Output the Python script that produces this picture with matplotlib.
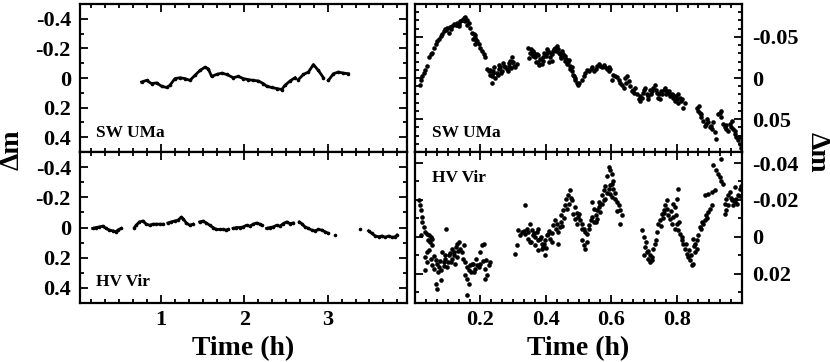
import matplotlib
matplotlib.use('Agg')
import numpy as np
import matplotlib.pyplot as plt
from matplotlib.ticker import MultipleLocator, FixedLocator, FuncFormatter

plt.rcParams['font.family'] = 'Liberation Serif'
plt.rcParams['font.weight'] = 'bold'

nan = np.nan

# SW UMa, full run (h, mag) -- NaN marks gaps in the light curve
sw_long_t = [0.768, 0.828, 0.888, 0.948, 1.008, 1.068, 1.108, 1.168, 1.228, 1.288, 1.348,
             1.408, 1.468, 1.528, 1.568, 1.608, 1.668, 1.728, 1.788, 1.868, 1.928, 1.988,
             2.048, 2.108, 2.168, 2.228, 2.268, 2.328, 2.388, 2.448, 2.488, 2.548, 2.608, nan,
             2.648, 2.708, 2.768, 2.828, 2.888, 2.948, nan,
             3.008, 3.068, 3.128, 3.188, 3.248]
sw_long_m = [0.027, 0.016, 0.038, 0.033, 0.056, 0.064, 0.049, 0.004, -0.002, 0.004, 0.016,
             -0.018, -0.051, -0.073, -0.062, -0.011, -0.024, -0.033, -0.024, -0.002, -0.011, 0.004,
             0.011, 0.016, 0.020, 0.038, 0.056, 0.064, 0.071, 0.078, 0.049, 0.020, -0.002, nan,
             0.011, -0.024, -0.040, -0.091, -0.051, -0.002, nan,
             0.016, -0.029, -0.040, -0.033, -0.029]

# HV Vir, full run
hv_long_t = [0.182, 0.222, 0.263, 0.303, 0.343, 0.383, 0.423, 0.463, 0.483, 0.523, nan,
             0.683, 0.703, 0.743, 0.784, 0.824, 0.864, 0.904, 0.944, 0.984, 1.024, nan,
             1.084, 1.124, 1.164, 1.204, 1.244, 1.265, 1.305, 1.345, 1.385, nan,
             1.465, 1.505, 1.545, 1.585, 1.625, 1.665, 1.705, 1.745, 1.786, 1.806, nan,
             1.866, 1.906, 1.946, 1.986, 2.026, 2.066, 2.106, 2.146, 2.186, 2.206, nan,
             2.267, 2.307, 2.347, 2.387, 2.427, 2.467, 2.507, 2.547, 2.587, nan,
             2.659, 2.687, 2.727, 2.768, 2.808, 2.848, 2.888, 2.928, 2.968, 3.008, nan,
             3.088, nan, 3.381, nan,
             3.489, 3.529, 3.569, 3.609, 3.649, 3.689, 3.729, 3.770, 3.810, 3.830]
hv_long_m = [0.006, 0.0, -0.004, -0.009, 0.006, 0.017, 0.022, 0.028, 0.017, 0.006, nan,
             0.0, -0.015, -0.037, -0.043, -0.022, -0.015, -0.022, -0.022, -0.022, -0.022, nan,
             -0.030, -0.037, -0.043, -0.048, -0.069, -0.058, -0.030, -0.015, -0.022, nan,
             -0.037, -0.043, -0.030, -0.015, 0.0, 0.013, 0.013, 0.013, 0.017, 0.013, nan,
             0.006, 0.0, 0.0, -0.004, -0.015, -0.009, -0.022, -0.030, -0.022, -0.015, nan,
             0.006, 0.0, -0.004, -0.015, -0.009, -0.026, -0.037, -0.026, -0.030, nan,
             -0.037, -0.026, -0.004, 0.006, 0.017, 0.022, 0.013, 0.017, 0.028, 0.039, nan,
             0.050, nan, 0.013, nan,
             0.022, 0.039, 0.056, 0.061, 0.056, 0.065, 0.056, 0.065, 0.061, 0.050]

# SW UMa, first hour
sw_short_t = [0.014, 0.017, 0.022, 0.027, 0.030, 0.038, 0.043, 0.048, 0.052, 0.058, 0.063, 0.068,
              0.073, 0.078, 0.083, 0.088, 0.093, 0.095, 0.098, 0.103, 0.106, 0.109, 0.114, 0.118,
              0.124, 0.127, 0.129, 0.134, 0.136, 0.139, 0.144, 0.147, 0.149, 0.152, 0.154, 0.159,
              0.160, 0.164, 0.169, 0.174, 0.177, 0.180, 0.182, 0.185, 0.185, 0.188, 0.190, 0.195,
              0.200, 0.205, 0.210, 0.215,
              0.220, 0.225, 0.228, 0.230, 0.235, 0.235, 0.238, 0.240, 0.243, 0.245, 0.250, 0.253,
              0.256, 0.258, 0.261, 0.263, 0.266, 0.268, 0.271, 0.276, 0.281, 0.283, 0.286, 0.288,
              0.291, 0.293, 0.296, 0.298, 0.301, 0.303, 0.306, 0.311,
              0.347, 0.350, 0.352, 0.355, 0.357, 0.360, 0.362, 0.365, 0.367, 0.370, 0.372, 0.375,
              0.377, 0.380, 0.382, 0.387, 0.390, 0.392, 0.395, 0.398, 0.400, 0.403, 0.405, 0.408,
              0.410, 0.413, 0.415, 0.418, 0.420, 0.423, 0.425, 0.428, 0.430, 0.433, 0.438, 0.440,
              0.443, 0.445, 0.448, 0.450, 0.453, 0.455, 0.458, 0.460, 0.463, 0.465, 0.469, 0.470,
              0.474, 0.475, 0.479, 0.480, 0.484, 0.485, 0.489, 0.490, 0.494, 0.499,
              0.501, 0.511, 0.516, 0.521, 0.526, 0.531, 0.537, 0.542, 0.547, 0.552, 0.557, 0.562,
              0.567, 0.572, 0.577, 0.582, 0.587, 0.592, 0.592, 0.597, 0.602, 0.607, 0.613, 0.618,
              0.623, 0.628, 0.633, 0.638, 0.643, 0.645, 0.648, 0.653, 0.658, 0.663, 0.668, 0.670,
              0.673, 0.678, 0.684, 0.688, 0.689, 0.694, 0.697, 0.699, 0.704, 0.709, 0.712, 0.714,
              0.719, 0.722, 0.724, 0.729, 0.734, 0.736, 0.739, 0.744, 0.745, 0.749, 0.752, 0.755,
              0.760, 0.765, 0.768, 0.770, 0.775, 0.778, 0.780, 0.785, 0.788, 0.790, 0.795, 0.797,
              0.800, 0.803, 0.805, 0.810, 0.812, 0.815, 0.820, 0.826,
              0.861, 0.866, 0.868, 0.871, 0.875, 0.876, 0.881, 0.886, 0.891, 0.893, 0.897, 0.902,
              0.905, 0.907, 0.912, 0.917, 0.922, 0.927, 0.932, 0.935, 0.937, 0.942, 0.947, 0.950,
              0.952, 0.957, 0.962, 0.965, 0.968, 0.973, 0.978, 0.980, 0.983, 0.988, 0.990, 0.993,
              0.998]
sw_short_m = [0.008, 0.002, -0.002, -0.006, -0.010, -0.015, -0.025, -0.029, -0.031, -0.037, -0.041, -0.045,
              -0.047, -0.051, -0.054, -0.057, -0.059, -0.058, -0.061, -0.055, -0.062, -0.059, -0.063, -0.066,
              -0.065, -0.064, -0.067, -0.063, -0.066, -0.069, -0.071, -0.070, -0.073, -0.074, -0.069, -0.071,
              -0.065, -0.067, -0.061, -0.055, -0.048, -0.053, -0.052, -0.049, -0.041, -0.046, -0.045, -0.041,
              -0.037, -0.033, -0.029, -0.025,
              -0.011, -0.008, -0.010, -0.004, -0.002, 0.006, -0.009, -0.006, -0.013, 0.000, -0.006, -0.004,
              -0.011, -0.016, -0.013, -0.006, -0.008, -0.018, -0.015, -0.013, -0.011, -0.008, -0.015, -0.018,
              -0.021, -0.012, -0.025, -0.020, -0.019, -0.015, -0.013, -0.017,
              -0.037, -0.024, -0.031, -0.035, -0.029, -0.027, -0.033, -0.031, -0.025, -0.020, -0.029, -0.028,
              -0.019, -0.016, -0.023, -0.017, -0.021, -0.025, -0.031, -0.029, -0.027, -0.035, -0.030, -0.033,
              -0.019, -0.025, -0.031, -0.021, -0.029, -0.033, -0.035, -0.037, -0.033, -0.039, -0.035, -0.031,
              -0.029, -0.024, -0.025, -0.033, -0.029, -0.025, -0.027, -0.021, -0.023, -0.017, -0.019, -0.022,
              -0.015, -0.011, -0.013, -0.009, -0.004, -0.002, 0.000, 0.003, 0.006, 0.008,
              0.006, 0.002, -0.002, -0.006, -0.010, -0.008, -0.011, -0.013, -0.009, -0.011, -0.015, -0.017,
              -0.015, -0.013, -0.016, -0.013, -0.011, -0.013, -0.009, -0.011, 0.002, -0.004, -0.002, -0.001,
              0.002, 0.006, 0.008, 0.012, 0.000, 0.006, -0.002, 0.004, 0.010, 0.016, 0.014, 0.018,
              0.012, 0.020, 0.026, 0.022, 0.028, 0.024, 0.018, 0.014, 0.012, 0.020, 0.022, 0.026,
              0.014, 0.020, 0.016, 0.012, 0.008, 0.014, 0.018, 0.024, 0.019, 0.026, 0.016, 0.020,
              0.014, 0.012, 0.020, 0.016, 0.018, 0.016, 0.022, 0.020, 0.021, 0.024, 0.028, 0.022,
              0.026, 0.030, 0.020, 0.024, 0.028, 0.026, 0.036, 0.030,
              0.036, 0.040, 0.034, 0.042, 0.044, 0.048, 0.052, 0.058, 0.056, 0.050, 0.054, 0.060,
              0.058, 0.062, 0.054, 0.066, 0.074, 0.044, 0.042, 0.048, 0.040, 0.056, 0.060, 0.057,
              0.062, 0.064, 0.056, 0.060, 0.052, 0.062, 0.068, 0.065, 0.072, 0.076, 0.072, 0.080,
              0.085]

# HV Vir, first hour
hv_short_t = [0.012, 0.014, 0.017, 0.017, 0.020, 0.022, 0.027, 0.030, 0.032, 0.032, 0.038, 0.038,
              0.038, 0.041, 0.043, 0.043, 0.045, 0.048, 0.048, 0.051, 0.053, 0.053, 0.058, 0.058,
              0.063, 0.063, 0.068, 0.068, 0.070, 0.073, 0.075, 0.078, 0.078, 0.083, 0.088, 0.088,
              0.092, 0.093, 0.095, 0.098, 0.100, 0.103, 0.108, 0.109, 0.112, 0.114, 0.118, 0.119,
              0.122, 0.124, 0.128, 0.129, 0.132, 0.134, 0.139, 0.144, 0.148, 0.149, 0.154, 0.154,
              0.159, 0.159, 0.159, 0.164, 0.164, 0.169, 0.170, 0.174, 0.178, 0.180, 0.185, 0.188,
              0.190, 0.195, 0.198, 0.200, 0.205, 0.208, 0.210, 0.215, 0.215, 0.218, 0.220, 0.225,
              0.230,
              0.306, 0.311, 0.316, 0.322, 0.327, 0.332, 0.337, 0.337, 0.342, 0.345, 0.347, 0.352,
              0.352, 0.356, 0.357, 0.362, 0.365, 0.367, 0.367, 0.372, 0.375, 0.377, 0.377, 0.382,
              0.385, 0.387, 0.387, 0.392, 0.395, 0.398, 0.398, 0.402, 0.403, 0.408, 0.410, 0.413,
              0.418, 0.420, 0.423, 0.428, 0.430, 0.433, 0.438, 0.438, 0.443, 0.445, 0.448, 0.450,
              0.453, 0.455, 0.458, 0.463, 0.465, 0.469, 0.470, 0.474, 0.476, 0.479, 0.484, 0.488,
              0.489, 0.494, 0.495, 0.499,
              0.501, 0.506, 0.511, 0.511, 0.512, 0.516, 0.516, 0.521, 0.521, 0.526, 0.526, 0.531,
              0.532, 0.537, 0.542, 0.542, 0.547, 0.547, 0.552, 0.552, 0.557, 0.557, 0.562, 0.562,
              0.567, 0.567, 0.572, 0.572, 0.577, 0.577, 0.582, 0.582, 0.587, 0.587, 0.592, 0.592,
              0.597, 0.597, 0.597, 0.602, 0.602, 0.602, 0.607, 0.607, 0.612, 0.613, 0.617, 0.618,
              0.623, 0.628, 0.628, 0.633,
              0.694, 0.699, 0.699, 0.704, 0.706, 0.709, 0.712, 0.714, 0.718, 0.719, 0.724, 0.726,
              0.729, 0.734, 0.737, 0.739, 0.744, 0.749, 0.752, 0.755, 0.757, 0.760, 0.762, 0.765,
              0.770, 0.772, 0.775, 0.780, 0.783, 0.785, 0.790, 0.790, 0.795, 0.795, 0.797, 0.800,
              0.800, 0.805, 0.805, 0.808, 0.810, 0.815, 0.818, 0.820, 0.826, 0.828, 0.831, 0.836,
              0.838, 0.841, 0.844, 0.846, 0.851, 0.851, 0.853, 0.856, 0.856, 0.861, 0.863, 0.866,
              0.871, 0.876, 0.878, 0.881, 0.886, 0.886, 0.891, 0.893, 0.897, 0.897, 0.902, 0.907,
              0.907, 0.912, 0.917, 0.922, 0.927, 0.932, 0.935, 0.937, 0.942, 0.947, 0.947, 0.952,
              0.952, 0.957, 0.958, 0.962, 0.966, 0.968, 0.973, 0.975, 0.978, 0.978, 0.983, 0.985,
              0.988, 0.993, 0.995, 0.998]
hv_short_m = [-0.0197, -0.0170, -0.0143, -0.0007, -0.0107, -0.0079, -0.0052, 0.0110, -0.0025, 0.0182, -0.0016, 0.0137,
              0.0083, 0.0020, -0.0007, 0.0074, 0.0029, 0.0119, 0.0002, 0.0043, 0.0011, 0.0155, 0.0173, 0.0105,
              0.0128, 0.0255, 0.0146, 0.0282, 0.0190, 0.0164, 0.0130, 0.0182, 0.0237, 0.0083, 0.0137, 0.0160,
              0.0100, 0.0119, -0.0040, 0.0164, 0.0140, 0.0101, 0.0090, 0.0137, 0.0120, 0.0065, 0.0100, 0.0083,
              0.0150, 0.0056, 0.0110, 0.0038, 0.0080, 0.0029, 0.0065, 0.0083, 0.0120, 0.0047, 0.0137, 0.0210,
              0.0164, 0.0228, 0.0314, 0.0182, 0.0255, 0.0155, 0.0190, 0.0146, 0.0150, 0.0192, 0.0173, 0.0120,
              0.0155, 0.0164, 0.0150, 0.0083, 0.0047, 0.0130, 0.0038, 0.0173, 0.0228, 0.0125, 0.0210, 0.0155,
              0.0137,
              0.0092, 0.0047, -0.0034, -0.0010, -0.0025, -0.0030, -0.0016, -0.0170, -0.0043, 0.0010, -0.0025, -0.0070,
              0.0029, 0.0030, -0.0034, -0.0007, -0.0020, 0.0002, 0.0047, -0.0025, 0.0020, -0.0043, 0.0074, 0.0011,
              0.0000, 0.0038, 0.0065, 0.0056, 0.0040, 0.0020, 0.0101, 0.0060, -0.0007, -0.0016, -0.0030, 0.0011,
              0.0029, -0.0020, -0.0061, -0.0089, -0.0040, -0.0070, -0.0025, 0.0038, -0.0052, -0.0080, -0.0116, -0.0060,
              -0.0143, -0.0100, -0.0170, -0.0206, -0.0150, -0.0224, -0.0180, -0.0251, -0.0210, -0.0197, -0.0125, -0.0160,
              -0.0098, -0.0070, -0.0130, -0.0107,
              -0.0125, -0.0089, -0.0070, 0.0020, -0.0040, -0.0043, 0.0047, -0.0025, 0.0065, -0.0016, 0.0029, -0.0061,
              -0.0040, -0.0089, -0.0107, -0.0188, -0.0079, -0.0152, -0.0116, -0.0080, -0.0143, -0.0098, -0.0161, -0.0188,
              -0.0134, -0.0180, -0.0224, -0.0179, -0.0251, -0.0200, -0.0278, -0.0206, -0.0332, -0.0240, -0.0378, -0.0260,
              -0.0360, -0.0233, -0.0280, -0.0341, -0.0215, -0.0287, -0.0260, -0.0305, -0.0240, -0.0206, -0.0140, -0.0188,
              -0.0170, -0.0143, -0.0070, -0.0116,
              -0.0034, 0.0002, 0.0101, 0.0056, 0.0030, 0.0083, 0.0080, 0.0119, 0.0100, 0.0137, 0.0128, 0.0110,
              0.0065, 0.0038, 0.0020, -0.0025, -0.0070, -0.0089, -0.0060, -0.0125, -0.0100, -0.0143, -0.0130, -0.0170,
              -0.0197, -0.0150, -0.0116, -0.0098, -0.0140, -0.0070, -0.0179, -0.0107, -0.0161, -0.0043, -0.0120, -0.0206,
              -0.0070, -0.0260, -0.0034, -0.0080, -0.0016, 0.0020, 0.0000, 0.0038, 0.0065, 0.0040, 0.0092, 0.0110,
              0.0070, 0.0128, 0.0100, 0.0155, 0.0146, 0.0011, 0.0050, 0.0083, 0.0038, 0.0065, 0.0020, -0.0007,
              -0.0052, -0.0043, -0.0080, -0.0070, -0.0089, -0.0224, -0.0116, -0.0100, -0.0134, -0.0233, -0.0152, -0.0170,
              -0.0242, -0.0387, -0.0251, -0.0360, -0.0341, -0.0323, -0.0423, -0.0305, -0.0287, -0.0179, -0.0125, -0.0206,
              -0.0143, -0.0224, -0.0170, -0.0242, -0.0210, -0.0197, -0.0170, -0.0200, -0.0188, -0.0269, -0.0206, -0.0180,
              -0.0224, -0.0260, -0.0220, -0.0278]

fig = plt.figure(figsize=(8.3, 3.62), dpi=100)
W, H = 830.0, 362.0
ax_tl = fig.add_axes([80 / W, 1 - 152 / H, 327 / W, 148 / H])
ax_bl = fig.add_axes([80 / W, 1 - 303 / H, 327 / W, 151 / H])
ax_tr = fig.add_axes([415 / W, 1 - 152 / H, 327 / W, 148 / H])
ax_br = fig.add_axes([415 / W, 1 - 303 / H, 327 / W, 151 / H])


def fmt(v, pos):
    if abs(v) < 1e-9:
        return '0'
    return '%g' % v


def style(ax, right):
    for s in ax.spines.values():
        s.set_linewidth(1.6)
    ax.tick_params(which='both', direction='in', top=True, bottom=True, left=True, right=True,
                   width=1.3, labelsize=16)
    ax.tick_params(which='major', length=6)
    ax.tick_params(which='minor', length=3)
    ax.tick_params(axis='x', pad=5)
    if right:
        ax.tick_params(axis='y', labelleft=False, labelright=True, pad=7)
    else:
        ax.tick_params(axis='y', pad=6.5)
    ax.yaxis.set_major_formatter(FuncFormatter(fmt))
    ax.xaxis.set_major_formatter(FuncFormatter(fmt))


# left column: long runs
for ax, t, m in [(ax_tl, sw_long_t, sw_long_m), (ax_bl, hv_long_t, hv_long_m)]:
    ax.plot(t, m, '-o', color='black', lw=2.0, ms=2.6, mew=0)
    ax.set_xlim(0.03, 3.95)
    ax.set_ylim(0.5, -0.5)
    ax.xaxis.set_major_locator(FixedLocator([1, 2, 3]))
    ax.xaxis.set_minor_locator(MultipleLocator(1 / 6.0))
    ax.yaxis.set_major_locator(FixedLocator([-0.4, -0.2, 0, 0.2, 0.4]))
    ax.yaxis.set_minor_locator(MultipleLocator(0.1))
    style(ax, False)

# right column: first hour
ax_tr.plot(sw_short_t, sw_short_m, 'o', color='black', ms=3.3, mew=0)
ax_br.plot(hv_short_t, hv_short_m, 'o', color='black', ms=3.3, mew=0)
for ax in [ax_tr, ax_br]:
    ax.set_xlim(0, 1)
    ax.xaxis.set_major_locator(FixedLocator([0, 0.2, 0.4, 0.6, 0.8, 1.0]))
    ax.xaxis.set_minor_locator(MultipleLocator(1 / 30.0))
    ax.yaxis.set_minor_locator(MultipleLocator(0.01))
    style(ax, True)
ax_tr.set_ylim(0.09, -0.09)
ax_tr.yaxis.set_major_locator(FixedLocator([-0.05, 0, 0.05]))
ax_br.set_ylim(0.036, -0.046)
ax_br.yaxis.set_major_locator(FixedLocator([-0.04, -0.02, 0, 0.02]))
ax_br.xaxis.set_major_formatter(FuncFormatter(lambda v, p: '' if v < 0.1 or v > 0.9 else '%g' % v))

for ax in [ax_tl, ax_tr]:
    ax.tick_params(axis='x', labelbottom=False)

ax_tl.text(0.05, 0.10, 'SW UMa', transform=ax_tl.transAxes, fontsize=12.5, va='baseline')
ax_tr.text(0.052, 0.10, 'SW UMa', transform=ax_tr.transAxes, fontsize=12.5, va='baseline')
ax_bl.text(0.05, 0.11, 'HV Vir', transform=ax_bl.transAxes, fontsize=12.5, va='baseline')
ax_br.text(0.052, 0.80, 'HV Vir', transform=ax_br.transAxes, fontsize=12.5, va='baseline')

fig.text(243.5 / W, 1 - 355 / H, 'Time (h)', fontsize=20, ha='center', va='baseline')
fig.text(578.5 / W, 1 - 355 / H, 'Time (h)', fontsize=20, ha='center', va='baseline')
fig.text(12.5 / W, 1 - 150 / H, '\u0394m', fontsize=20, rotation=90, ha='center', va='center')
fig.text(817.5 / W, 1 - 152 / H, '\u0394m', fontsize=20, rotation=270, ha='center', va='center')

fig.savefig('out.png', dpi=100)
